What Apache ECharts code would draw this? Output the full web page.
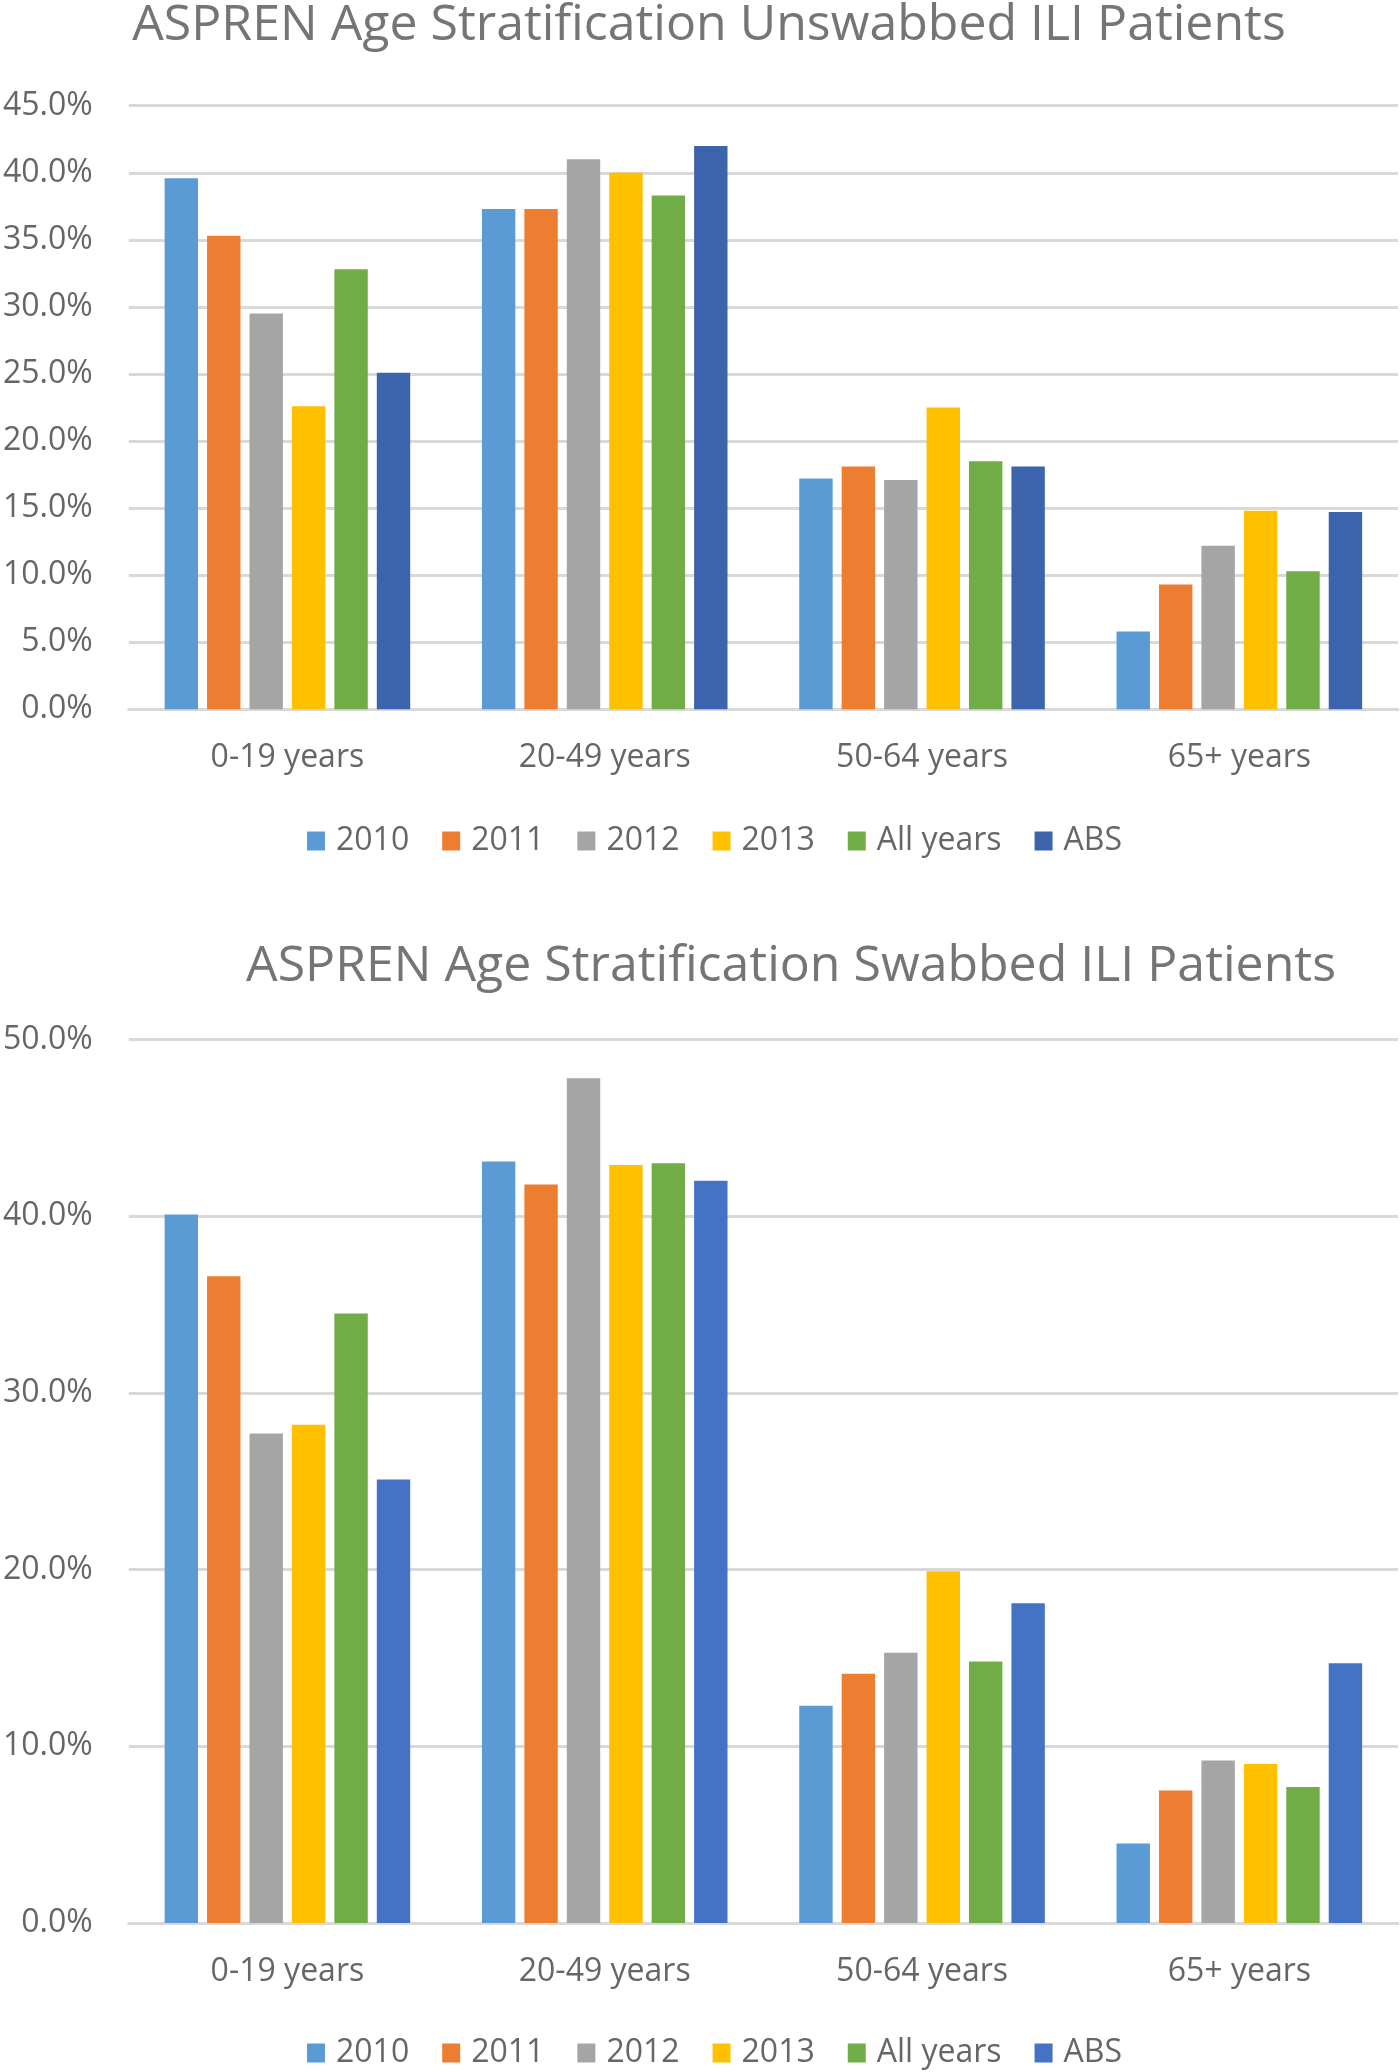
<!DOCTYPE html>
<html>
<head>
<meta charset="utf-8">
<script src="https://cdn.jsdelivr.net/npm/echarts@6/dist/echarts.min.js"></script>
<style>
html,body{margin:0;padding:0;background:#fff;}
#chart{width:1400px;height:2072px;}
</style>
</head>
<body>
<div id="chart"></div>
<script>
const categories = ['0-19 years', '20-49 years', '50-64 years', '65+ years'];
const seriesNames = ['2010', '2011', '2012', '2013', 'All years', 'ABS'];

// Unswabbed ILI patients (%)
const unswabbed2010 = [39.6, 37.3, 17.2, 5.8];
const unswabbed2011 = [35.3, 37.3, 18.1, 9.3];
const unswabbed2012 = [29.5, 41.0, 17.1, 12.2];
const unswabbed2013 = [22.6, 40.0, 22.5, 14.8];
const unswabbedAll  = [32.8, 38.3, 18.5, 10.3];
const unswabbedABS  = [25.1, 42.0, 18.1, 14.7];

// Swabbed ILI patients (%)
const swabbed2010 = [40.1, 43.1, 12.3, 4.5];
const swabbed2011 = [36.6, 41.8, 14.1, 7.5];
const swabbed2012 = [27.7, 47.8, 15.3, 9.2];
const swabbed2013 = [28.2, 42.9, 19.9, 9.0];
const swabbedAll  = [34.5, 43.0, 14.8, 7.7];
const swabbedABS  = [25.1, 42.0, 18.1, 14.7];

const topColors = ['#5B9BD5', '#ED7D31', '#A5A5A5', '#FFC000', '#70AD47', '#3B64AD'];
const botColors = ['#5B9BD5', '#ED7D31', '#A5A5A5', '#FFC000', '#70AD47', '#4472C4'];

const FONT = 'Open Sans';
const TXT = '#666666';

const topData = [unswabbed2010, unswabbed2011, unswabbed2012, unswabbed2013, unswabbedAll, unswabbedABS];
const botData = [swabbed2010, swabbed2011, swabbed2012, swabbed2013, swabbedAll, swabbedABS];

function makeSeries(dataArr, colors, idx) {
  return dataArr.map((d, i) => ({
    name: seriesNames[i] + (idx === 1 ? ' ' : ''),
    type: 'bar',
    xAxisIndex: idx,
    yAxisIndex: idx,
    data: d,
    barGap: '27%',
    barCategoryGap: '22.6%',
    itemStyle: { color: colors[i] },
    emphasis: { disabled: true },
    animation: false
  }));
}

function legendData(idx) {
  return seriesNames.map(n => ({ name: n + (idx === 1 ? ' ' : '') }));
}

const chart = echarts.init(document.getElementById('chart'), null, { renderer: 'canvas' });

const yLabel = {
  color: TXT, fontFamily: FONT, fontSize: 32, margin: 36,
  formatter: v => v.toFixed(1) + '%'
};
const xLabel = { color: TXT, fontFamily: FONT, fontSize: 32, margin: 33 };
const splitLine = { show: true, lineStyle: { color: '#D9D9D9', width: 3 } };
const legendText = { color: TXT, fontFamily: FONT, fontSize: 32, padding: [0, 0, 0, 6] };

chart.setOption({
  animation: false,
  backgroundColor: '#ffffff',
  title: [
    { text: 'ASPREN Age Stratification Unswabbed ILI Patients', left: 704, top: -4, textAlign: 'center',
      textStyle: { color: '#757575', fontFamily: FONT, fontSize: 50, fontWeight: 'normal' } },
    { text: 'ASPREN Age Stratification Swabbed ILI Patients', left: 786, top: 937, textAlign: 'center',
      textStyle: { color: '#757575', fontFamily: FONT, fontSize: 50, fontWeight: 'normal' } }
  ],
  legend: [
    { data: legendData(0), top: 820, left: 302,
      itemWidth: 18, itemHeight: 19, itemGap: 33, icon: 'rect',
      formatter: n => n.trim(), textStyle: legendText },
    { data: legendData(1), top: 2032, left: 302,
      itemWidth: 18, itemHeight: 19, itemGap: 33, icon: 'rect',
      formatter: n => n.trim(), textStyle: legendText }
  ],
  grid: [
    { left: 121, width: 1277, top: 105.7, height: 603.6, containLabel: false },
    { left: 121, width: 1277, top: 1039.5, height: 883.5, containLabel: false }
  ],
  xAxis: [
    { type: 'category', gridIndex: 0, data: categories,
      axisLine: { show: true, lineStyle: { color: '#D9D9D9', width: 3 } },
      axisTick: { show: false }, axisLabel: xLabel },
    { type: 'category', gridIndex: 1, data: categories,
      axisLine: { show: true, lineStyle: { color: '#D9D9D9', width: 3 } },
      axisTick: { show: false }, axisLabel: xLabel }
  ],
  yAxis: [
    { type: 'value', gridIndex: 0, min: 0, max: 45, interval: 5,
      axisLine: { show: false }, axisTick: { show: false },
      axisLabel: yLabel, splitLine: splitLine },
    { type: 'value', gridIndex: 1, min: 0, max: 50, interval: 10,
      axisLine: { show: false }, axisTick: { show: false },
      axisLabel: yLabel, splitLine: splitLine }
  ],
  series: [].concat(makeSeries(topData, topColors, 0), makeSeries(botData, botColors, 1))
});
</script>
</body>
</html>
